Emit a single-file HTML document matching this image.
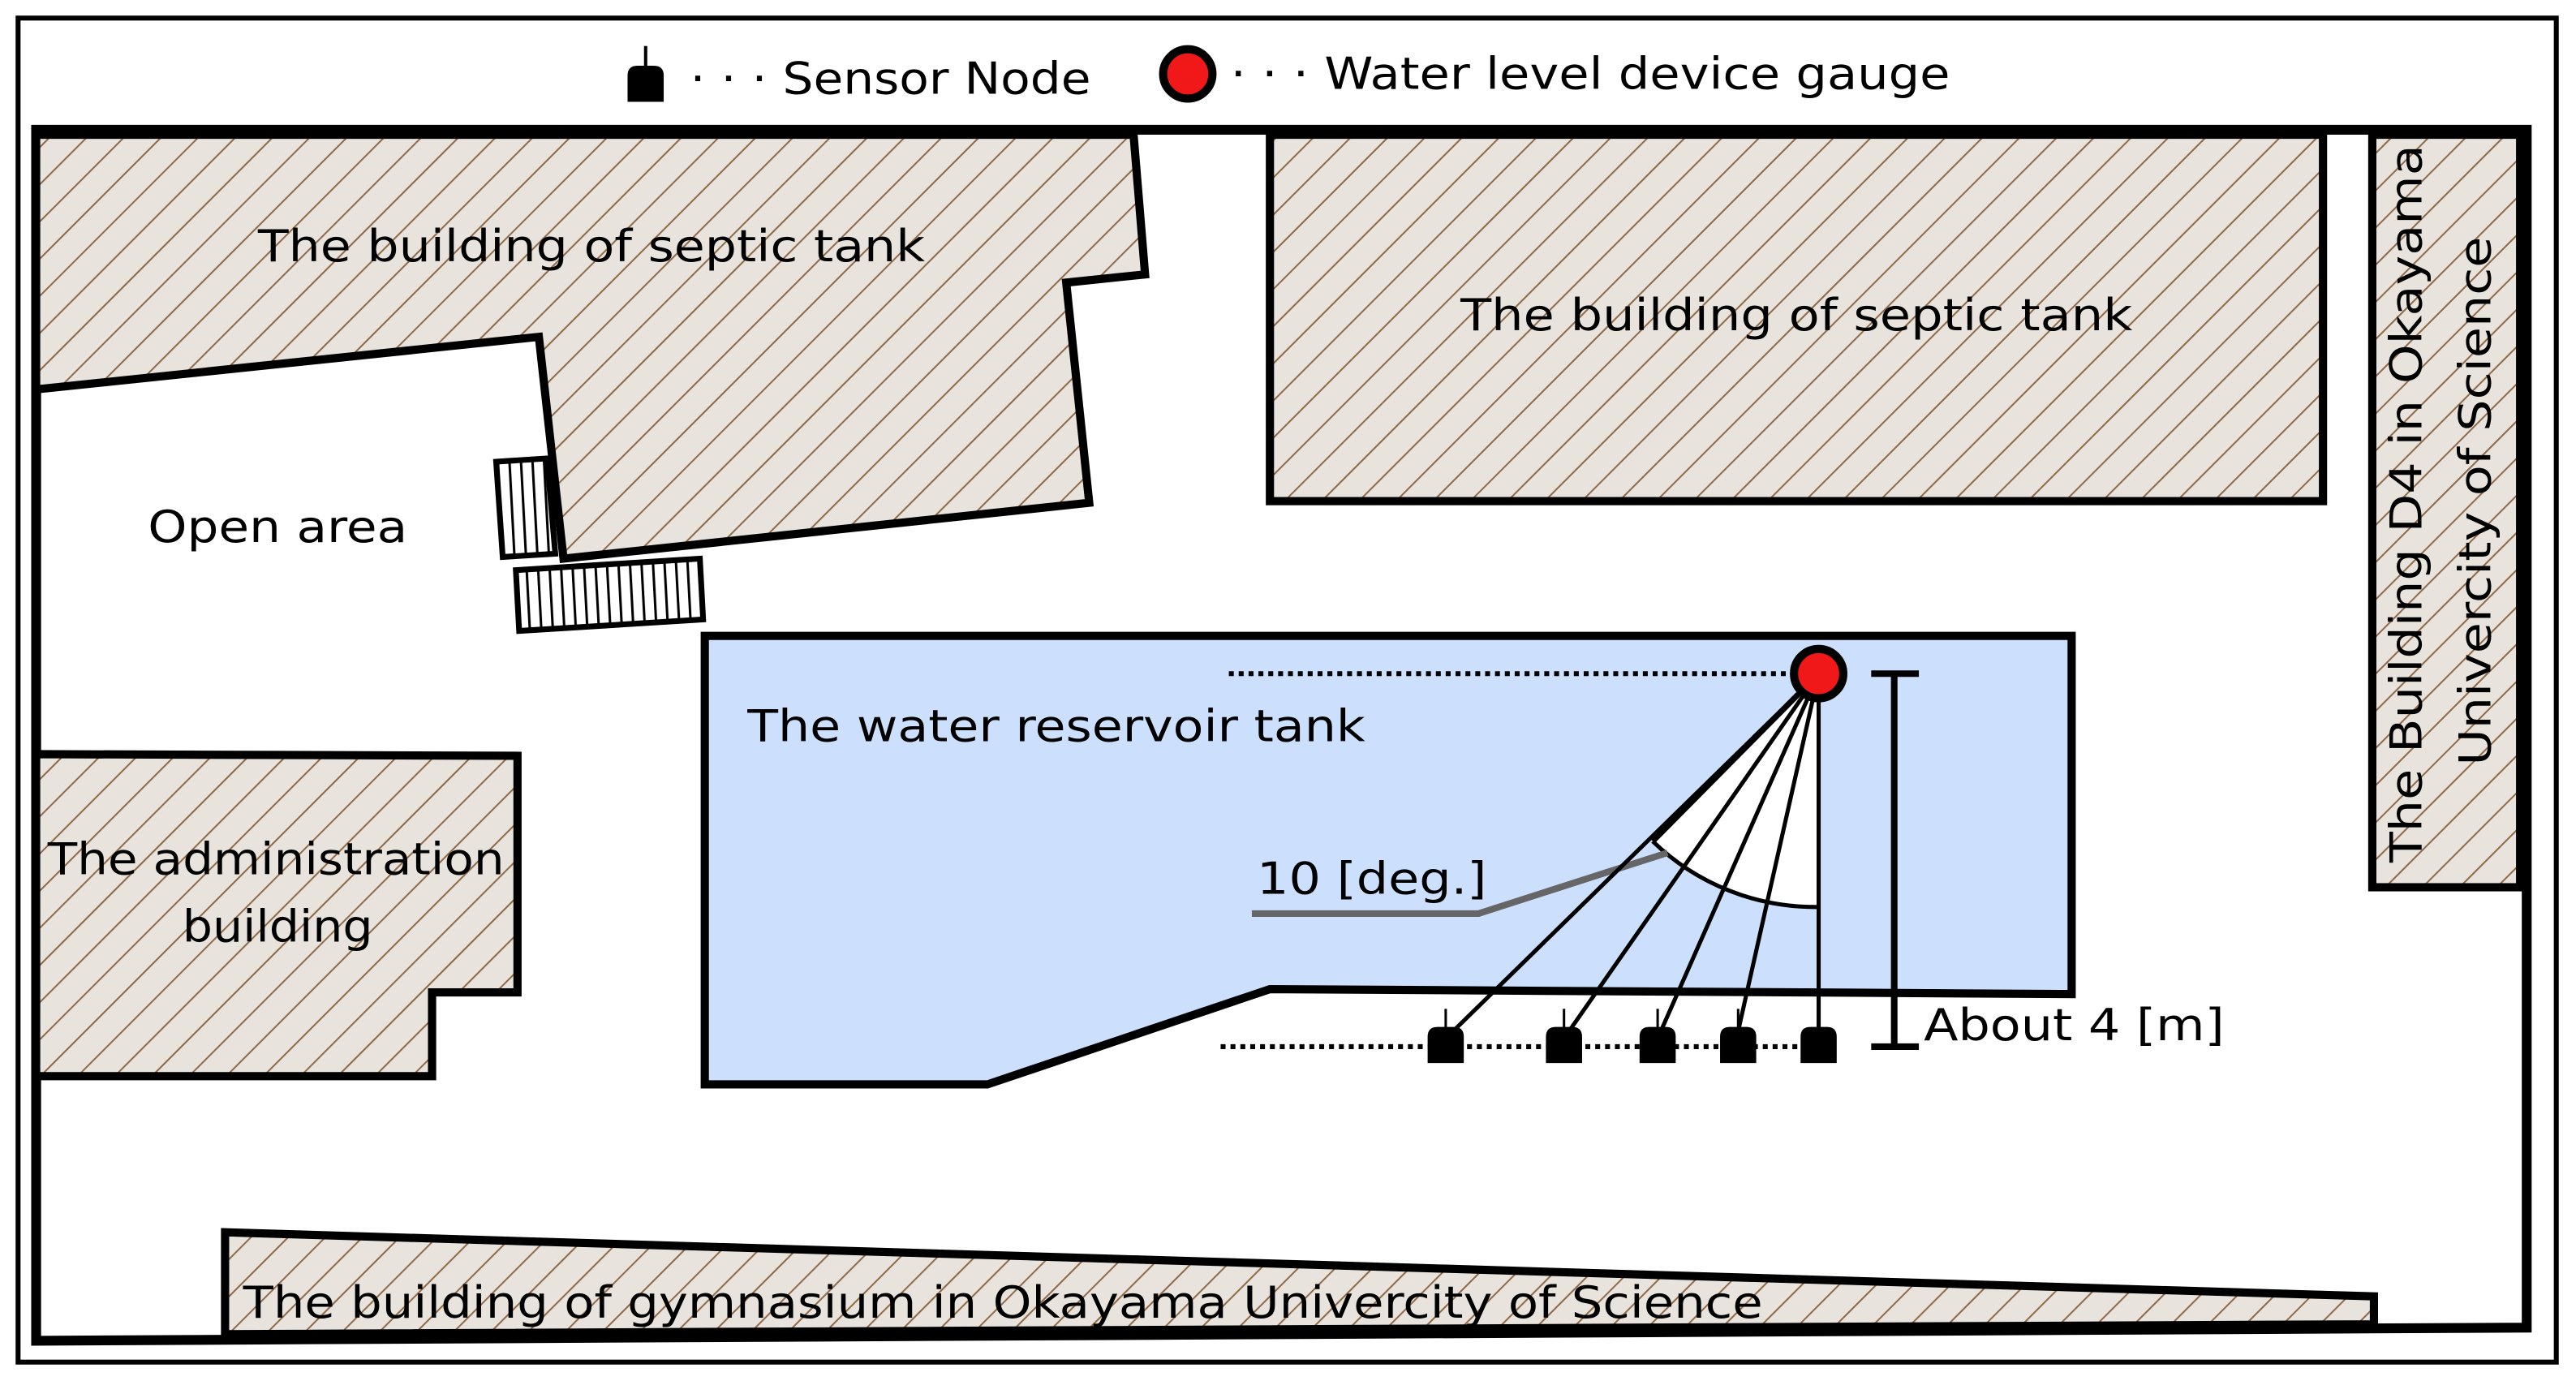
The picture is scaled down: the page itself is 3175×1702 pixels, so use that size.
<!DOCTYPE html>
<html><head><meta charset="utf-8"><style>
html,body{margin:0;padding:0;background:#fff}
svg{display:block}
text{font-family:"DejaVu Sans","Liberation Sans",sans-serif;font-size:27px;fill:#000}
</style></head><body>
<svg width="3175" height="1702" viewBox="0 0 1568 840.5" preserveAspectRatio="none" xmlns="http://www.w3.org/2000/svg">
<defs>
<pattern id="h" width="16" height="16" patternUnits="userSpaceOnUse" patternTransform="rotate(45)">
<rect width="16" height="16" fill="#e8e3dd"/>
<line x1="0" y1="0" x2="0" y2="16" stroke="#8f6a48" stroke-width="2"/>
</pattern>
<pattern id="v" width="7" height="10" patternUnits="userSpaceOnUse" patternTransform="rotate(-3)">
<rect width="7" height="10" fill="#fff"/>
<line x1="1" y1="0" x2="1" y2="10" stroke="#000" stroke-width="1.5"/>
</pattern>
<path id="sn" d="M-11,11 L-11,-5 Q-11,-11 -5,-11 L5,-11 Q11,-11 11,-5 L11,11 Z"/>
</defs>
<rect width="1568" height="840.5" fill="#fff"/>
<rect x="11" y="11" width="1545" height="818" fill="none" stroke="#000" stroke-width="3"/>
<!-- legend -->
<use href="#sn" x="393" y="51" fill="#000"/>
<line x1="393" y1="28" x2="393" y2="42" stroke="#000" stroke-width="2"/>
<text x="420" y="57" textLength="244" lengthAdjust="spacingAndGlyphs">· · · Sensor Node</text>
<circle cx="723" cy="45" r="15" fill="#f01818" stroke="#000" stroke-width="5"/>
<text x="749" y="54" textLength="438" lengthAdjust="spacingAndGlyphs">· · · Water level device gauge</text>
<!-- map frame -->
<polygon points="22,79 1538,79 1538,808 22,816" fill="#fff" stroke="#000" stroke-width="6"/>
<!-- buildings -->
<polygon points="22,82 690,82 697,167 649,172 663,306 343,340 328,205 22,237" fill="url(#h)" stroke="#000" stroke-width="5"/>
<rect x="773" y="82" width="641" height="223" fill="url(#h)" stroke="#000" stroke-width="5"/>
<rect x="1444" y="82" width="90" height="458" fill="url(#h)" stroke="#000" stroke-width="5"/>
<polygon points="22,459 315,460 315,604 263,604 263,655 22,655" fill="url(#h)" stroke="#000" stroke-width="5"/>
<polygon points="137,750 1445,789 1445,806 137,812" fill="url(#h)" stroke="#000" stroke-width="5"/>
<!-- stairs -->
<polygon points="302,281 333,279 338,337 306,339" fill="url(#v)" stroke="#000" stroke-width="3.5"/>
<polygon points="314,347 426,340 428,377 316,384" fill="url(#v)" stroke="#000" stroke-width="3.5"/>
<!-- water tank -->
<polygon points="429,387 1261,387 1261,605 773,602 601,660 429,660" fill="#cce0fd" stroke="#000" stroke-width="5"/>
<!-- fan -->
<path d="M1107,410 L1006,512 A142,142 0 0 0 1107,552 Z" fill="#fff"/>
<path d="M1006,512 A142,142 0 0 0 1107,552" fill="none" stroke="#000" stroke-width="2.5"/>
<line x1="1107" y1="410" x2="1006" y2="512" stroke="#000" stroke-width="3.5"/>
<polyline points="762,556 900,556 1015,519" fill="none" stroke="#666" stroke-width="4"/>
<g stroke="#000" stroke-width="2.5">
<line x1="1107" y1="410" x2="880" y2="632"/>
<line x1="1107" y1="410" x2="952" y2="632"/>
<line x1="1107" y1="410" x2="1009" y2="632"/>
<line x1="1107" y1="410" x2="1057" y2="632"/>
<line x1="1107" y1="410" x2="1107" y2="632"/>
</g>
<line x1="748" y1="410" x2="1094" y2="410" stroke="#000" stroke-width="3" stroke-dasharray="3,3"/>
<line x1="743" y1="637" x2="1100" y2="637" stroke="#000" stroke-width="3" stroke-dasharray="3,3"/>
<circle cx="1107" cy="410" r="15" fill="#f01818" stroke="#000" stroke-width="5"/>
<!-- sensors -->
<g fill="#000">
<use href="#sn" x="880" y="636"/><use href="#sn" x="952" y="636"/><use href="#sn" x="1009" y="636"/><use href="#sn" x="1058" y="636"/><use href="#sn" x="1107" y="636"/>
</g>
<g stroke="#000" stroke-width="1.5">
<line x1="880" y1="614" x2="880" y2="626"/><line x1="952" y1="614" x2="952" y2="626"/><line x1="1009" y1="614" x2="1009" y2="626"/><line x1="1058" y1="614" x2="1058" y2="626"/>
</g>
<!-- ruler -->
<g stroke="#000" stroke-width="4">
<line x1="1153" y1="410" x2="1153" y2="637"/>
<line x1="1139" y1="410" x2="1168" y2="410"/>
<line x1="1139" y1="637" x2="1168" y2="637"/>
</g>
<!-- labels -->
<text x="157" y="159" textLength="406" lengthAdjust="spacingAndGlyphs">The building of septic tank</text>
<text x="889" y="201" textLength="409" lengthAdjust="spacingAndGlyphs">The building of septic tank</text>
<text x="90" y="330" textLength="158" lengthAdjust="spacingAndGlyphs">Open area</text>
<text x="455" y="451" textLength="376" lengthAdjust="spacingAndGlyphs">The water reservoir tank</text>
<text x="765" y="544" textLength="140" lengthAdjust="spacingAndGlyphs">10 [deg.]</text>
<text x="1171" y="633" textLength="183" lengthAdjust="spacingAndGlyphs">About 4 [m]</text>
<text x="29" y="532" textLength="278" lengthAdjust="spacingAndGlyphs">The administration</text>
<text x="111" y="573" textLength="116" lengthAdjust="spacingAndGlyphs">building</text>
<text x="148" y="802" textLength="925" lengthAdjust="spacingAndGlyphs">The building of gymnasium in Okayama Univercity of Science</text>
<text transform="translate(1474,525) rotate(-90)" textLength="437" lengthAdjust="spacingAndGlyphs">The Building D4 in Okayama</text>
<text transform="translate(1516,466) rotate(-90)" textLength="322" lengthAdjust="spacingAndGlyphs">Univercity of Science</text>
</svg>
</body></html>
